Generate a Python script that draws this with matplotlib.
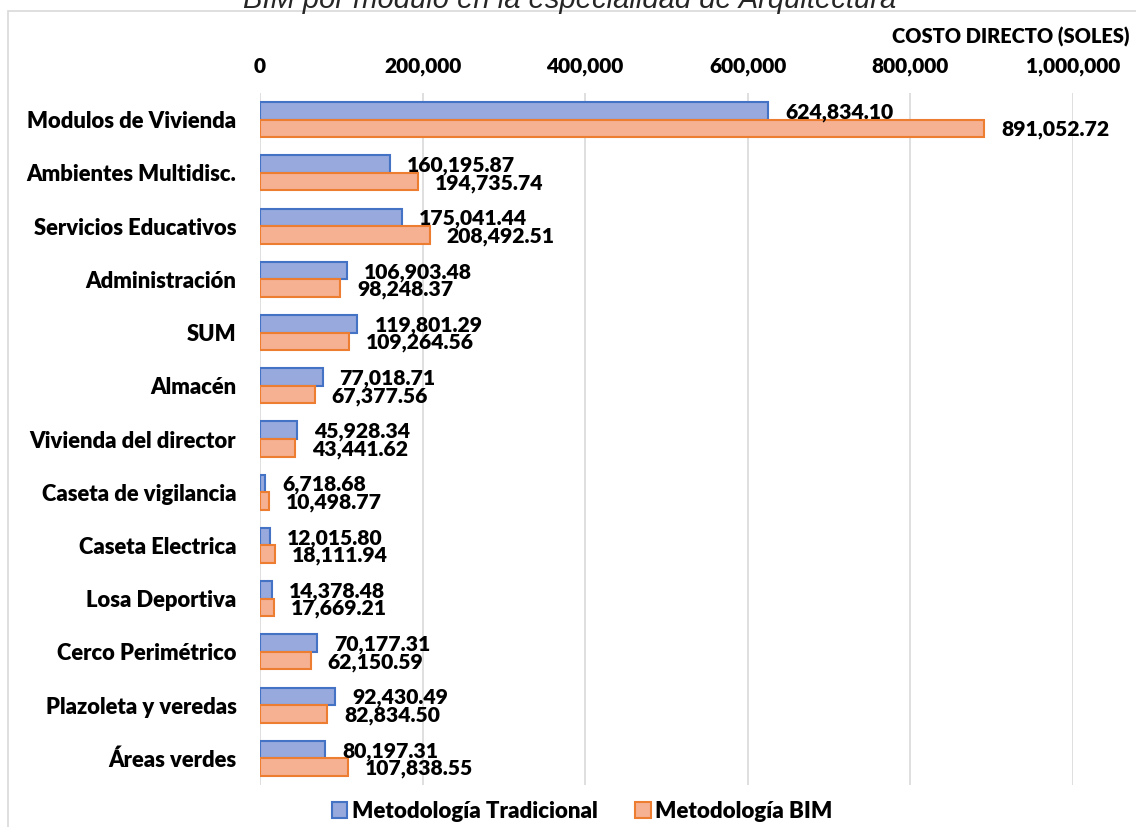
import numpy as np
import matplotlib.pyplot as plt
from matplotlib.patches import Patch, Rectangle

# costo directo por modulo (soles)
categorias = ['Modulos de Vivienda', 'Ambientes Multidisc.', 'Servicios Educativos',
              'Administración', 'SUM', 'Almacén', 'Vivienda del director',
              'Caseta de vigilancia', 'Caseta Electrica', 'Losa Deportiva',
              'Cerco Perimétrico', 'Plazoleta y veredas', 'Áreas verdes']
tradicional = [624834.10, 160195.87, 175041.44, 106903.48, 119801.29, 77018.71,
               45928.34, 6718.68, 12015.80, 14378.48, 70177.31, 92430.49, 80197.31]
bim = [891052.72, 194735.74, 208492.51, 98248.37, 109264.56, 67377.56,
       43441.62, 10498.77, 18111.94, 17669.21, 62150.59, 82834.50, 107838.55]
xticks = [0, 200000, 400000, 600000, 800000, 1000000]

plt.rcParams['font.family'] = ['Lato', 'DejaVu Sans']
peso = 'heavy'

W, H = 1136, 827
fig = plt.figure(figsize=(W / 100, H / 100), dpi=100)

# marco gris del area del grafico
fig.add_artist(Rectangle((8 / W, -0.01), 1.1, 1 - 11 / H + 0.01, transform=fig.transFigure,
                         fill=False, edgecolor='#D9D9D9', linewidth=1.2))

# titulo (recortado en la parte superior)
fig.text(570 / W, 1 - 8 / H, 'BIM por módulo en la especialidad de Arquitectura',
         ha='center', va='baseline', fontsize=21, style='italic',
         family=['Liberation Sans', 'DejaVu Sans'], color='#262626')

ax = fig.add_axes([260 / W, 1 - 785 / H, (1073 - 260) / W, (785 - 93) / H])

y = np.arange(len(categorias))
h = 0.33
azul_fill, azul_edge = '#97A9DD', '#4472C4'
nar_fill, nar_edge = '#F5B192', '#ED7D31'

ax.barh(y - h / 2, tradicional, height=h, color=azul_fill, edgecolor=azul_edge, linewidth=1.5, zorder=3)
ax.barh(y + h / 2, bim, height=h, color=nar_fill, edgecolor=nar_edge, linewidth=1.5, zorder=3)

for i in range(len(categorias)):
    ax.annotate(f'{tradicional[i]:,.2f}', (tradicional[i], y[i] - h / 2), xytext=(17, -1.5),
                textcoords='offset pixels', ha='left', va='center', fontsize=15.2, fontweight=peso)
    ax.annotate(f'{bim[i]:,.2f}', (bim[i], y[i] + h / 2), xytext=(17, -1.5),
                textcoords='offset pixels', ha='left', va='center', fontsize=15.2, fontweight=peso)

ax.set_xlim(0, 1000000)
ax.set_ylim(len(categorias) - 0.5, -0.5)
ax.set_xticks(xticks)
ax.set_xticklabels([f'{v:,.0f}' for v in xticks], fontsize=15, fontweight=peso)
ax.xaxis.tick_top()
ax.set_yticks(y)
ax.set_yticklabels(categorias, fontsize=15.8, fontweight=peso)
ax.tick_params(axis='both', length=0)
ax.tick_params(axis='x', pad=12)
ax.tick_params(axis='y', pad=17)
for s in ax.spines.values():
    s.set_visible(False)
ax.grid(axis='x', color='#D9D9D9', linewidth=1.2, zorder=0)
ax.set_axisbelow(True)

fig.text(1130 / W, 1 - 37 / H, 'COSTO DIRECTO (SOLES)', ha='right', va='center',
         fontsize=14.4, fontweight=peso)

handles = [Patch(facecolor=azul_fill, edgecolor=azul_edge, linewidth=1.5, label='Metodología Tradicional'),
           Patch(facecolor=nar_fill, edgecolor=nar_edge, linewidth=1.5, label='Metodología BIM')]
fig.legend(handles=handles, loc='center', bbox_to_anchor=(582 / W, 1 - 811 / H), ncol=2,
           frameon=False, prop={'weight': peso, 'size': 16},
           handlelength=0.7, handleheight=0.7, handletextpad=0.2, columnspacing=1.7)

fig.savefig('out.png', dpi=100)
